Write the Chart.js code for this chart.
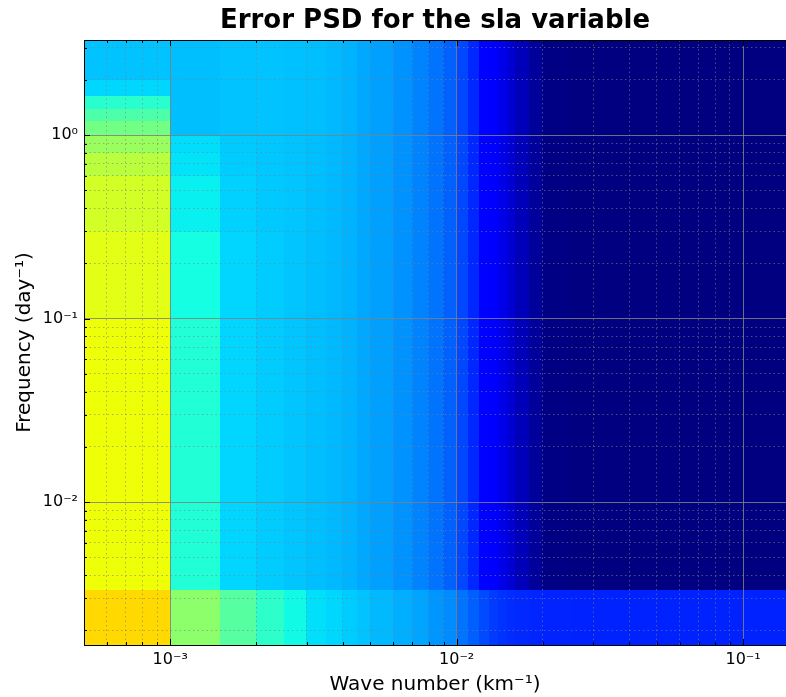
<!DOCTYPE html>
<html>
<head>
<meta charset="utf-8">
<title>Error PSD for the sla variable</title>
<script src="https://cdn.jsdelivr.net/npm/chart.js"></script>
<style>
  html, body { margin: 0; padding: 0; background: #fff; overflow: hidden; }
  canvas { display: block; }
</style>
</head>
<body>
<canvas id="psdChart" width="786" height="697"></canvas>
<script>
// Cell edges of the pcolormesh (wave number in km^-1, frequency in day^-1)
const waveEdges = [0.0005, 0.001, 0.0015, 0.002, 0.0025, 0.003, 0.0035, 0.004, 0.0045, 0.005,
    0.006, 0.007, 0.008, 0.009, 0.010, 0.011, 0.012, 0.013, 0.014, 0.015, 0.016, 0.018, 0.020, 0.025, 0.1412];
const freqEdges = [0.0016667, 0.0033333, 0.1, 0.3, 0.6, 0.8, 1.0, 1.2, 1.4, 1.65, 2.0, 3.3];

// Normalised error PSD (0 = bottom of jet colormap, 1 = top), one array per frequency band
const rowLowest = [0.68, 0.52, 0.455, 0.405, 0.37, 0.345, 0.336, 0.326, 0.316, 0.306, 0.297, 0.287,
    0.272, 0.262, 0.238, 0.218, 0.198, 0.183, 0.174, 0.168, 0.164, 0.161, 0.159, 0.158];
const rowMain = [0.64, 0.39, 0.335, 0.325, 0.318, 0.312, 0.306, 0.300, 0.291, 0.282, 0.268, 0.253,
    0.238, 0.220, 0.195, 0.163, 0.126, 0.110, 0.092, 0.072, 0.050, 0.024, 0.004, 0.0];
const rowTenth = [0.625, 0.375, 0.335, 0.325, 0.318, 0.312, 0.306, 0.300, 0.291, 0.282, 0.268, 0.253,
    0.238, 0.220, 0.195, 0.163, 0.126, 0.110, 0.092, 0.072, 0.050, 0.024, 0.004, 0.0];
const rowThird = [0.605, 0.36, 0.33, 0.322, 0.318, 0.312, 0.306, 0.300, 0.291, 0.282, 0.268, 0.253,
    0.238, 0.220, 0.195, 0.163, 0.126, 0.110, 0.092, 0.072, 0.050, 0.024, 0.004, 0.0];
const rowSixTenths = [0.575, 0.348, 0.326, 0.32, 0.316, 0.312, 0.306, 0.300, 0.291, 0.282, 0.268, 0.253,
    0.238, 0.220, 0.195, 0.163, 0.126, 0.110, 0.092, 0.072, 0.050, 0.024, 0.004, 0.0];
const rowEightTenths = [0.535, 0.342, 0.324, 0.32, 0.316, 0.312, 0.306, 0.300, 0.291, 0.282, 0.268, 0.253,
    0.238, 0.220, 0.195, 0.163, 0.126, 0.110, 0.092, 0.072, 0.050, 0.024, 0.004, 0.0];
const rowOne = [0.49, 0.312, 0.316, 0.316, 0.314, 0.312, 0.306, 0.300, 0.291, 0.282, 0.268, 0.253,
    0.238, 0.220, 0.195, 0.163, 0.126, 0.110, 0.092, 0.072, 0.050, 0.024, 0.004, 0.0];
const rowOneTwo = [0.445, 0.312, 0.316, 0.316, 0.314, 0.312, 0.306, 0.300, 0.291, 0.282, 0.268, 0.253,
    0.238, 0.220, 0.195, 0.163, 0.126, 0.110, 0.092, 0.072, 0.050, 0.024, 0.004, 0.0];
const rowOneFour = [0.400, 0.312, 0.316, 0.316, 0.314, 0.312, 0.306, 0.300, 0.291, 0.282, 0.268, 0.253,
    0.238, 0.220, 0.195, 0.163, 0.126, 0.110, 0.092, 0.072, 0.050, 0.024, 0.004, 0.0];
const rowOneSeven = [0.336, 0.312, 0.316, 0.316, 0.314, 0.312, 0.306, 0.300, 0.291, 0.282, 0.268, 0.253,
    0.238, 0.220, 0.195, 0.163, 0.126, 0.110, 0.092, 0.072, 0.050, 0.024, 0.004, 0.0];
const rowTop = [0.316, 0.312, 0.316, 0.316, 0.314, 0.312, 0.306, 0.300, 0.291, 0.282, 0.268, 0.253,
    0.238, 0.220, 0.195, 0.163, 0.126, 0.110, 0.092, 0.072, 0.050, 0.024, 0.004, 0.0];
const psdRows = [rowLowest, rowMain, rowTenth, rowThird, rowSixTenths, rowEightTenths,
    rowOne, rowOneTwo, rowOneFour, rowOneSeven, rowTop];

// Tick positions and labels
const xTicks = [0.0006, 0.0007, 0.0008, 0.0009, 0.001, 0.002, 0.003, 0.004, 0.005, 0.006, 0.007, 0.008, 0.009,
    0.01, 0.02, 0.03, 0.04, 0.05, 0.06, 0.07, 0.08, 0.09, 0.1];
const xMajors = [0.001, 0.01, 0.1];
const xMajorLabels = ['10⁻³', '10⁻²', '10⁻¹'];
const yTicks = [0.002, 0.003, 0.004, 0.005, 0.006, 0.007, 0.008, 0.009, 0.01, 0.02, 0.03, 0.04, 0.05, 0.06,
    0.07, 0.08, 0.09, 0.1, 0.2, 0.3, 0.4, 0.5, 0.6, 0.7, 0.8, 0.9, 1, 2, 3];
const yMajors = [0.01, 0.1, 1];
const yMajorLabels = ['10⁻²', '10⁻¹', '10⁰'];

// matplotlib "jet" segment data
const jetRed = [[0, 0], [0.35, 0], [0.66, 1], [0.89, 1], [1, 0.5]];
const jetGreen = [[0, 0], [0.125, 0], [0.375, 1], [0.64, 1], [0.91, 0], [1, 0]];
const jetBlue = [[0, 0.5], [0.11, 1], [0.34, 1], [0.65, 0], [1, 0]];

function segment(seg, v) {
    for (let i = 1; i < seg.length; i++) {
        if (v <= seg[i][0]) {
            const t = (v - seg[i - 1][0]) / (seg[i][0] - seg[i - 1][0]);
            return seg[i - 1][1] + t * (seg[i][1] - seg[i - 1][1]);
        }
    }
    return seg[seg.length - 1][1];
}

function jet(v) {
    v = Math.min(1, Math.max(0, v));
    const r = Math.round(255 * segment(jetRed, v));
    const g = Math.round(255 * segment(jetGreen, v));
    const b = Math.round(255 * segment(jetBlue, v));
    return `rgb(${r},${g},${b})`;
}

function isMajor(value) {
    const e = Math.log10(value);
    return Math.abs(e - Math.round(e)) < 1e-9;
}

function majorLabel(value, majors, labels) {
    const i = majors.findIndex(m => Math.abs(m - value) / m < 1e-9);
    return i >= 0 ? labels[i] : '';
}

// Paint the PSD cells under the grid, using the chart's own scales
const psdCells = {
    id: 'psdCells',
    beforeDraw(chart) {
        const { ctx, chartArea: a, scales: { x, y } } = chart;
        ctx.save();
        ctx.beginPath();
        ctx.rect(a.left, a.top, a.right - a.left, a.bottom - a.top);
        ctx.clip();
        psdRows.forEach((row, i) => {
            const yTop = y.getPixelForValue(freqEdges[i + 1]);
            const yBot = y.getPixelForValue(freqEdges[i]);
            row.forEach((v, j) => {
                const x0 = x.getPixelForValue(waveEdges[j]);
                const x1 = x.getPixelForValue(waveEdges[j + 1]);
                ctx.fillStyle = jet(v);
                ctx.fillRect(Math.floor(x0), Math.floor(yTop),
                    Math.ceil(x1) - Math.floor(x0), Math.ceil(yBot) - Math.floor(yTop));
            });
        });
        ctx.restore();
    }
};

// Inward tick marks and the top spine, matplotlib style
const innerTicks = {
    id: 'innerTicks',
    afterDraw(chart) {
        const { ctx, chartArea: a, scales: { x, y } } = chart;
        ctx.save();
        ctx.strokeStyle = '#000';
        ctx.lineWidth = 1;
        ctx.beginPath();
        ctx.moveTo(a.left, a.top + 0.5);
        ctx.lineTo(a.right, a.top + 0.5);
        x.ticks.forEach(t => {
            const px = Math.round(x.getPixelForValue(t.value)) + 0.5;
            const len = isMajor(t.value) ? 6 : 3;
            ctx.moveTo(px, a.bottom);
            ctx.lineTo(px, a.bottom - len);
            ctx.moveTo(px, a.top);
            ctx.lineTo(px, a.top + len);
        });
        y.ticks.forEach(t => {
            const py = Math.round(y.getPixelForValue(t.value)) + 0.5;
            const len = isMajor(t.value) ? 6 : 3;
            ctx.moveTo(a.left, py);
            ctx.lineTo(a.left + len, py);
        });
        ctx.stroke();
        ctx.restore();
    }
};

const gridColor = ctx => ctx.tick && isMajor(ctx.tick.value) ? 'rgba(128,128,128,0.85)' : 'rgba(128,128,128,0.6)';
const gridDash = ctx => ctx.tick && !isMajor(ctx.tick.value) ? [1.5, 3] : [];

new Chart(document.getElementById('psdChart'), {
    type: 'scatter',
    data: { datasets: [{ label: 'PSD', data: [] }] },
    plugins: [psdCells, innerTicks],
    options: {
        responsive: false,
        animation: false,
        layout: { padding: 0 },
        plugins: {
            legend: { display: false },
            tooltip: { enabled: false },
            title: {
                display: true,
                fullSize: false,
                text: 'Error PSD for the sla variable',
                color: '#000',
                font: { family: 'DejaVu Sans', size: 26, weight: 'bold', lineHeight: 1.2 },
                padding: { top: 6, bottom: 2.8 }
            }
        },
        scales: {
            x: {
                type: 'logarithmic',
                min: waveEdges[0],
                max: waveEdges[waveEdges.length - 1],
                afterBuildTicks: s => { s.ticks = xTicks.map(v => ({ value: v })); },
                afterFit: s => { s.height = 52; },
                ticks: {
                    autoSkip: false,
                    maxRotation: 0,
                    padding: 5,
                    color: '#000',
                    font: { family: 'DejaVu Sans', size: 16 },
                    callback: v => majorLabel(v, xMajors, xMajorLabels)
                },
                grid: { color: gridColor, lineWidth: 1, drawTicks: false },
                border: { color: '#000', width: 1, dash: gridDash },
                title: {
                    display: true,
                    text: 'Wave number (km⁻¹)',
                    color: '#000',
                    font: { family: 'DejaVu Sans', size: 20, lineHeight: 1.2 },
                    padding: { top: 0, bottom: 0 }
                }
            },
            y: {
                type: 'logarithmic',
                min: freqEdges[0],
                max: freqEdges[freqEdges.length - 1],
                afterBuildTicks: s => { s.ticks = yTicks.map(v => ({ value: v })); },
                afterFit: s => { s.width = 84; },
                ticks: {
                    autoSkip: false,
                    padding: 6,
                    color: '#000',
                    font: { family: 'DejaVu Sans', size: 16 },
                    callback: v => majorLabel(v, yMajors, yMajorLabels)
                },
                grid: { color: gridColor, lineWidth: 1, drawTicks: false },
                border: { color: '#000', width: 1, dash: gridDash },
                title: {
                    display: true,
                    text: 'Frequency (day⁻¹)',
                    color: '#000',
                    font: { family: 'DejaVu Sans', size: 20, lineHeight: 1.2 },
                    padding: { top: 13, bottom: 0 }
                }
            }
        }
    }
});
</script>
</body>
</html>
